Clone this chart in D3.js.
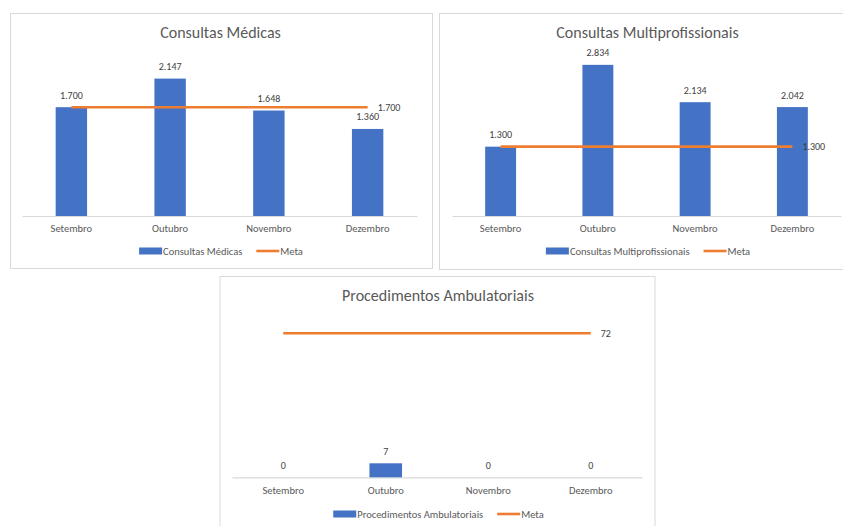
<!DOCTYPE html>
<html>
<head>
<meta charset="utf-8">
<script src="https://cdn.jsdelivr.net/npm/d3@7"></script>
<style>
  body { margin: 0; background: #fff; }
  svg { display: block; font-family: Carlito, Lato, "Open Sans", sans-serif; }
</style>
</head>
<body>
<svg id="chart" width="843" height="526"></svg>
<script>
// ---- data ----
const months = ['Setembro', 'Outubro', 'Novembro', 'Dezembro'];

const medicas = [1700, 2147, 1648, 1360];
const medicasMeta = [1700, 1700, 1700, 1700];

const multi = [1300, 2834, 2134, 2042];
const multiMeta = [1300, 1300, 1300, 1300];

const procedimentos = [0, 7, 0, 0];
const procedimentosMeta = [72, 72, 72, 72];

const titles = ['Consultas Médicas', 'Consultas Multiprofissionais', 'Procedimentos Ambulatoriais'];
const axisMax = [2500, 3000, 80];

// ---- style ----
const BLUE = '#4472C4';
const ORANGE = '#ED7D31';
const TEXT = '#595959';
const GRID = '#D9D9D9';

const fmt = v => d3.format(',')(v).replace(/,/g, '.');

const svg = d3.select('#chart');

// layout of each panel (box + plot area)
const panels = [
    { box: [10, 13, 422, 255], plotX: [22, 417], top: 56, base: 216, values: medicas, meta: medicasMeta },
    { box: [439, 13, 410, 256], plotX: [452, 841], top: 56, base: 216, values: multi, meta: multiMeta },
    { box: [219.5, 276, 435, 260], plotX: [232, 642], top: 317.3, base: 477.3, values: procedimentos, meta: procedimentosMeta },
];

panels.forEach((p, i) => drawPanel(p, titles[i], axisMax[i]));

function drawPanel(p, title, yMax) {
    const g = svg.append('g');
    const [bx, by, bw, bh] = p.box;

    g.append('rect')
        .attr('x', bx + 0.5).attr('y', by + 0.5)
        .attr('width', bw).attr('height', bh)
        .attr('fill', '#fff')
        .attr('stroke', GRID).attr('stroke-width', 1);

    const x = d3.scaleBand().domain(months).range(p.plotX);
    const y = d3.scaleLinear().domain([0, yMax]).range([p.base, p.top]);
    const cx = d => x(d) + x.bandwidth() / 2;
    const barW = x.step() * 0.318;
    const midX = (p.plotX[0] + p.plotX[1]) / 2;

    // title
    g.append('text')
        .attr('x', midX + 1).attr('y', by + 19)
        .attr('dy', '0.35em')
        .attr('text-anchor', 'middle')
        .attr('fill', TEXT)
        .style('font-size', '16px')
        .text(title);

    // category axis
    const axis = g.append('g')
        .attr('transform', `translate(0,${p.base})`)
        .call(d3.axisBottom(x).tickSize(0).tickPadding(9));
    axis.select('.domain').attr('stroke', GRID).attr('stroke-width', 1.2);
    axis.selectAll('text')
        .attr('fill', TEXT)
        .style('font-size', '10.5px')
        .style('font-family', 'Carlito, Lato, "Open Sans", sans-serif');

    // bars
    g.selectAll('.bar')
        .data(months.map((m, j) => ({ m, v: p.values[j] })))
        .enter()
        .append('rect')
        .attr('class', 'bar')
        .attr('x', d => cx(d.m) - barW / 2)
        .attr('y', d => y(d.v))
        .attr('width', barW)
        .attr('height', d => p.base - y(d.v))
        .attr('fill', BLUE);

    // bar labels
    g.selectAll('.bar-label')
        .data(months.map((m, j) => ({ m, v: p.values[j] })))
        .enter()
        .append('text')
        .attr('class', 'bar-label')
        .attr('x', d => cx(d.m))
        .attr('y', d => y(d.v) - 12)
        .attr('dy', '0.35em')
        .attr('text-anchor', 'middle')
        .attr('fill', '#404040')
        .style('font-size', '10px')
        .text(d => fmt(d.v));

    // meta line
    const metaData = months.map((m, j) => ({ m, v: p.meta[j] }));
    g.append('path')
        .datum(metaData)
        .attr('fill', 'none')
        .attr('stroke', ORANGE)
        .attr('stroke-width', 2.6)
        .attr('d', d3.line().x(d => cx(d.m)).y(d => y(d.v)));

    const last = metaData[metaData.length - 1];
    g.append('text')
        .attr('x', cx(last.m) + 10)
        .attr('y', y(last.v))
        .attr('dy', '0.35em')
        .attr('fill', '#404040')
        .style('font-size', '10px')
        .text(fmt(last.v));

    // legend
    const lg = g.append('g').attr('transform', `translate(0,${by + 238})`);
    const t1 = lg.append('text')
        .attr('dy', '0.35em')
        .attr('fill', TEXT)
        .style('font-size', '10.5px')
        .text(title);
    const t2 = lg.append('text')
        .attr('dy', '0.35em')
        .attr('fill', TEXT)
        .style('font-size', '10.5px')
        .text('Meta');
    const w1 = t1.node().getComputedTextLength();
    const w2 = t2.node().getComputedTextLength();
    const sw = 23, gap = 14, lw = 23;
    const total = sw + 1 + w1 + gap + lw + 1 + w2;
    let lx = midX + 1.5 - total / 2;
    lg.append('rect').attr('x', lx).attr('y', -3.5).attr('width', sw).attr('height', 7).attr('fill', BLUE);
    t1.attr('x', lx + sw + 1);
    lx += sw + 1 + w1 + gap;
    lg.append('line').attr('x1', lx).attr('x2', lx + lw).attr('y1', 0).attr('y2', 0)
        .attr('stroke', ORANGE).attr('stroke-width', 2.6);
    t2.attr('x', lx + lw + 1);
}
</script>
</body>
</html>
